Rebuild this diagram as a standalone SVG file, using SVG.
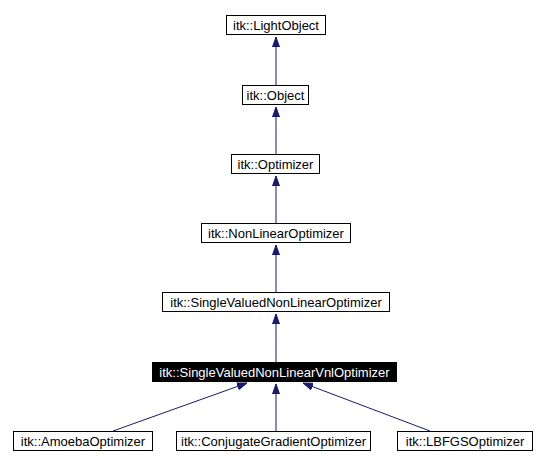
<svg xmlns="http://www.w3.org/2000/svg" width="545" height="465" viewBox="0 0 545 465">
<defs>
<style>
.box{fill:#fff;stroke:#000;stroke-width:1}
.sel{fill:#000;stroke:#000;stroke-width:1}
.t{font-family:"Liberation Sans",Arial,sans-serif;font-size:13px;fill:#000;text-anchor:middle}
.ts{font-family:"Liberation Sans",Arial,sans-serif;font-size:13px;fill:#fff;text-anchor:middle}
.e{stroke:#191970;stroke-width:1;fill:none;marker-end:url(#arr)}
</style>
<marker id="arr" markerUnits="userSpaceOnUse" markerWidth="10" markerHeight="8" refX="10" refY="4" orient="auto" viewBox="0 0 10 8">
<path d="M0,0.5 L10,4 L0,7.5 z" fill="#191970" stroke="#191970" stroke-width="1"/>
</marker>
</defs>
<rect width="545" height="465" fill="#fff"/>
<g id="edges">
<line class="e" x1="276" y1="85" x2="276" y2="37"/>
<line class="e" x1="276" y1="154" x2="276" y2="107"/>
<line class="e" x1="276" y1="223" x2="276" y2="176"/>
<line class="e" x1="276" y1="292" x2="276" y2="245"/>
<line class="e" x1="276" y1="362" x2="276" y2="314"/>
<line class="e" x1="113" y1="431" x2="247" y2="383"/>
<line class="e" x1="276" y1="431" x2="276" y2="384"/>
<line class="e" x1="430" y1="431" x2="303" y2="383"/>
</g>
<g id="n_lightobject">
<rect class="box" x="226.5" y="15.5" width="99" height="19"/>
<text class="t" x="276" y="29.5">itk::LightObject</text>
</g>
<g id="n_object">
<rect class="box" x="242.5" y="85.5" width="66" height="19"/>
<text class="t" x="275.5" y="99.5">itk::Object</text>
</g>
<g id="n_optimizer">
<rect class="box" x="231.5" y="154.5" width="88" height="19"/>
<text class="t" x="275.5" y="168.5">itk::Optimizer</text>
</g>
<g id="n_nonlinear">
<rect class="box" x="201.5" y="223.5" width="149" height="19"/>
<text class="t" x="276" y="237.5">itk::NonLinearOptimizer</text>
</g>
<g id="n_singlevalued">
<rect class="box" x="162.5" y="292.5" width="227" height="19"/>
<text class="t" x="276" y="306.5">itk::SingleValuedNonLinearOptimizer</text>
</g>
<g id="n_vnl">
<rect class="sel" x="152.5" y="362.5" width="244" height="19"/>
<text class="ts" x="274.5" y="376.5">itk::SingleValuedNonLinearVnlOptimizer</text>
</g>
<g id="n_amoeba">
<rect class="box" x="13.5" y="431.5" width="139" height="19"/>
<text class="t" x="83" y="445.5">itk::AmoebaOptimizer</text>
</g>
<g id="n_conjugate">
<rect class="box" x="176.5" y="431.5" width="194" height="19"/>
<text class="t" x="273.5" y="445.5">itk::ConjugateGradientOptimizer</text>
</g>
<g id="n_lbfgs">
<rect class="box" x="397.5" y="431.5" width="135" height="19"/>
<text class="t" x="465" y="445.5">itk::LBFGSOptimizer</text>
</g>
</svg>
